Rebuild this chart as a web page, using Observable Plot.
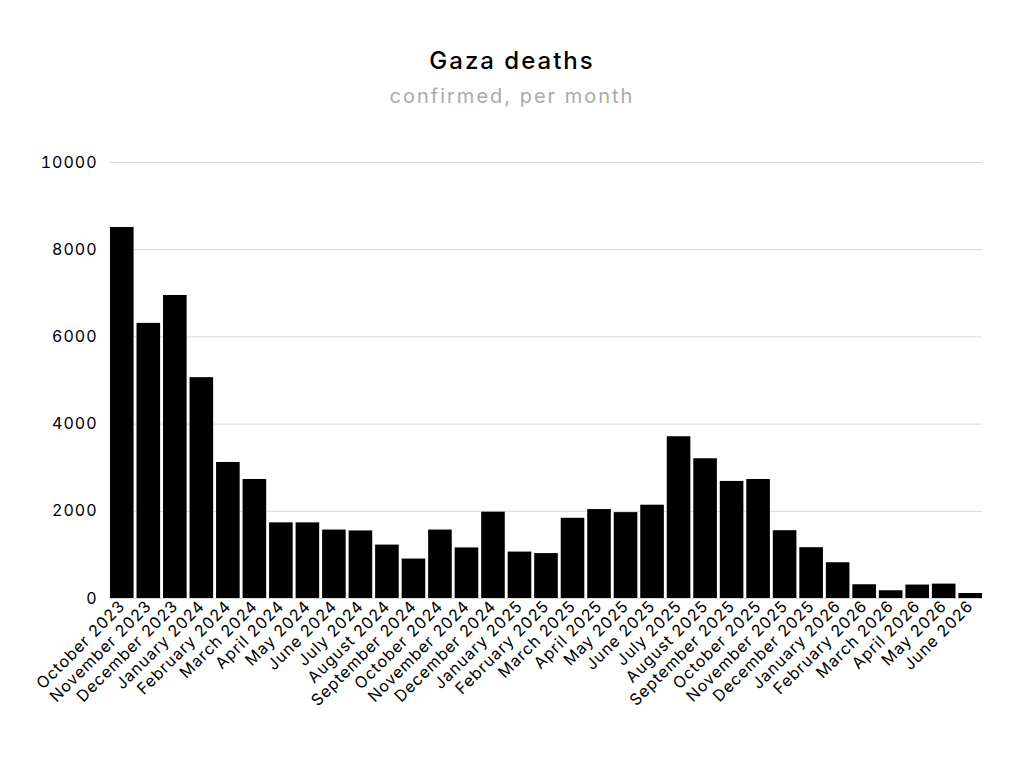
<!DOCTYPE html>
<html>
<head>
<meta charset="utf-8">
<script src="https://cdn.jsdelivr.net/npm/d3@7"></script>
<script src="https://cdn.jsdelivr.net/npm/@observablehq/plot@0.6"></script>
<style>
  body { margin: 0; background: #fff; font-family: Inter, "Noto Sans", sans-serif; }
  #wrap { width: 1024px; height: 768px; position: relative; }
  #title { position: absolute; top: 46px; width: 1024px; text-align: center; font-size: 24px; font-weight: 500; letter-spacing: 2px; color: #000; }
  #subtitle { position: absolute; top: 84px; width: 1024px; text-align: center; font-size: 20px; letter-spacing: 2px; color: #aaa; }
  #chart { position: absolute; top: 120px; left: 0; }
  #chart svg { letter-spacing: 1px; }
</style>
</head>
<body>
<div id="wrap">
  <div id="title">Gaza deaths</div>
  <div id="subtitle">confirmed, per month</div>
  <div id="chart"></div>
</div>
<script>
const months = [
  "October 2023","November 2023","December 2023","January 2024","February 2024","March 2024",
  "April 2024","May 2024","June 2024","July 2024","August 2024","September 2024",
  "October 2024","November 2024","December 2024","January 2025","February 2025","March 2025",
  "April 2025","May 2025","June 2025","July 2025","August 2025","September 2025",
  "October 2025","November 2025","December 2025","January 2026","February 2026","March 2026",
  "April 2026","May 2026","June 2026"
];
const deaths = [
  8510, 6310, 6950, 5065, 3120, 2730,
  1735, 1735, 1570, 1550, 1225, 905,
  1570, 1160, 1980, 1065, 1030, 1840,
  2040, 1970, 2140, 3710, 3205, 2685,
  2730, 1555, 1165, 820, 315, 178,
  308, 330, 115
];
const yTicks = [0, 2000, 4000, 6000, 8000, 10000];

const data = months.map((m, i) => ({month: m, deaths: deaths[i]}));

const chart = Plot.plot({
  width: 1024,
  height: 648,
  marginTop: 42,
  marginBottom: 170,
  marginLeft: 110,
  marginRight: 42,
  style: { fontFamily: "Inter, 'Noto Sans', sans-serif", fontSize: "16px", color: "#000", background: "#fff" },
  x: { domain: months, paddingInner: 0.11, paddingOuter: 0, round: false, label: null, tickSize: 0, tickPadding: 5, tickRotate: -45 },
  y: { domain: [0, 10000], ticks: yTicks, tickFormat: d => String(d), label: null, tickSize: 0, tickPadding: 13, grid: false },
  marks: [
    Plot.ruleY(yTicks, { stroke: "#d9d9d9", strokeWidth: 1 }),
    Plot.barY(data, { x: "month", y: "deaths", fill: "#000" }),
    Plot.axisY({ ticks: yTicks, tickFormat: d => String(d), tickSize: 0, tickPadding: 13, fontSize: 16, label: null })
  ]
});
document.getElementById("chart").appendChild(chart);
</script>
</body>
</html>
